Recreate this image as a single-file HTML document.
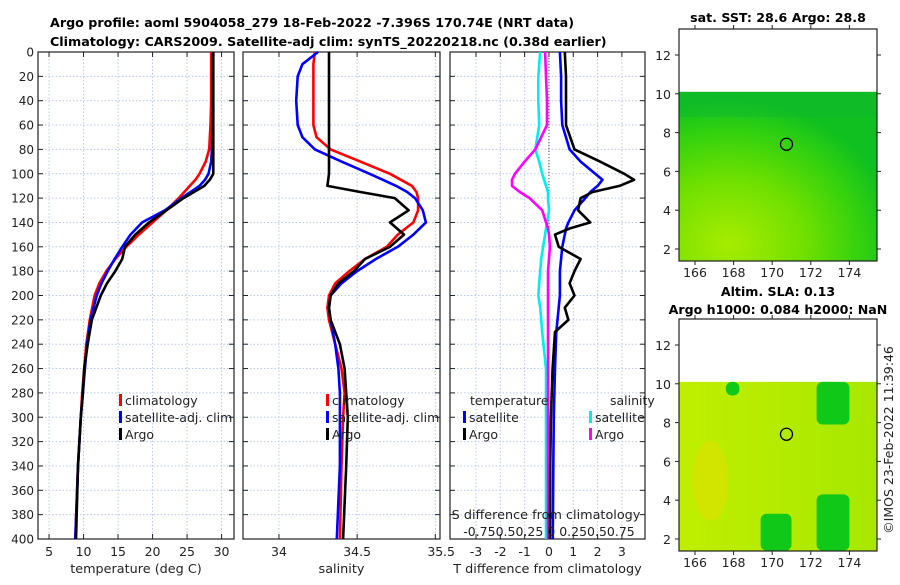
<!DOCTYPE html>
<html><head><meta charset="utf-8"><style>
body{margin:0;background:#fff;}
svg{font-family:"DejaVu Sans","Liberation Sans",sans-serif;}
</style></head><body>
<svg id="c" width="900" height="580" viewBox="0 0 900 580" xmlns="http://www.w3.org/2000/svg">
<text x="50" y="27" font-size="12.7" font-weight="bold">Argo profile: aoml 5904058_279 18-Feb-2022 -7.396S 170.74E (NRT data)</text>
<text x="50" y="46" font-size="12.7" font-weight="bold">Climatology: CARS2009. Satellite-adj clim: synTS_20220218.nc (0.38d earlier)</text>
<g id="plots"></g>
<text transform="translate(893,440) rotate(-90)" text-anchor="middle" font-size="12.5" fill="#222">©IMOS 23-Feb-2022 11:39:46</text>
</svg>
<script>
// ---- data ----
const depthT = [0,20,40,60,80,90,100,105,110,120,130,140,150,160,170,180,190,200,220,240,260,280,300,340,400];
const tempClim = [28.5,28.5,28.5,28.4,28.2,27.7,26.8,26.2,25.4,23.8,22.0,20.0,18.0,16.2,14.6,13.3,12.3,11.6,10.9,10.4,10.1,9.8,9.6,9.2,8.8];
const tempSat  = [28.7,28.7,28.7,28.7,28.6,28.5,28.1,27.6,26.8,24.2,21.8,18.5,16.8,15.6,14.5,13.5,12.6,11.9,11.0,10.5,10.2,9.9,9.6,9.2,8.8];
const tempArgo = [28.8,28.8,28.8,28.8,28.8,28.8,28.8,28.3,27.5,24.5,22.0,19.5,17.5,16.0,15.6,14.6,13.4,12.5,11.2,10.6,10.1,9.9,9.6,9.2,8.9];
const depthS = [0,10,20,40,60,70,80,90,100,110,115,120,130,140,150,160,170,180,190,200,210,220,240,260,280,300,340,400];
const salClim = [34.23,34.22,34.22,34.22,34.22,34.24,34.33,34.52,34.71,34.85,34.88,34.89,34.89,34.86,34.76,34.69,34.55,34.45,34.36,34.32,34.31,34.32,34.36,34.40,34.42,34.41,34.40,34.39];
const salSat  = [34.25,34.15,34.12,34.11,34.12,34.15,34.23,34.40,34.58,34.75,34.82,34.87,34.92,34.94,34.86,34.76,34.62,34.50,34.40,34.33,34.32,34.33,34.36,34.38,34.39,34.39,34.39,34.37];
const salArgo = [34.32,34.32,34.32,34.32,34.32,34.32,34.32,34.32,34.32,34.31,34.52,34.74,34.83,34.71,34.80,34.71,34.55,34.48,34.38,34.33,34.32,34.33,34.39,34.42,34.43,34.44,34.43,34.41];
const depthD = [0,20,40,60,80,90,100,105,110,115,120,130,140,145,150,160,170,180,190,200,210,220,230,260,300,340,400];
const dTsat  = [0.45,0.5,0.5,0.55,0.85,1.3,1.9,2.2,2.0,1.7,1.5,1.05,0.8,0.7,0.65,0.55,0.5,0.45,0.45,0.45,0.4,0.35,0.3,0.25,0.2,0.18,0.16];
const dTargo = [0.65,0.7,0.7,0.7,1.05,2.1,3.1,3.5,2.9,1.8,1.3,1.2,1.7,0.85,0.25,0.4,1.3,1.05,0.85,1.05,0.65,0.8,0.25,0.15,0.08,0.05,0.04];
const dSsat  = [-0.09,-0.11,-0.11,-0.1,-0.14,-0.1,-0.07,-0.05,-0.03,-0.01,-0.01,0,-0.02,-0.03,-0.04,-0.06,-0.08,-0.09,-0.1,-0.11,-0.09,-0.08,-0.07,-0.03,-0.03,-0.03,-0.03];
const dSargo = [-0.04,-0.03,-0.02,-0.02,-0.14,-0.25,-0.35,-0.38,-0.38,-0.3,-0.2,-0.07,-0.03,-0.01,0,0.01,0,-0.01,-0.01,-0.01,-0.01,-0.01,-0.01,-0.01,-0.01,-0.01,-0.01];
const depthTicks = [0,20,40,60,80,100,120,140,160,180,200,220,240,260,280,300,320,340,360,380,400];
const tempTicks = [5,10,15,20,25,30];
const salTicks = ["34","34.5","35"];
const dTTicks = [-3,-2,-1,0,1,2,3];
const lonTicks = [166,168,170,172,174];
const latTicks = [2,4,6,8,10,12];

const NS="http://www.w3.org/2000/svg";
const G=document.getElementById('plots');
function el(tag,attrs,parent){const e=document.createElementNS(NS,tag);for(const k in attrs)e.setAttribute(k,attrs[k]);(parent||G).appendChild(e);return e;}
function txt(x,y,s,size,anchor,parent){const t=el('text',{x:x,y:y,'font-size':size||12.5,'text-anchor':anchor||'middle',fill:'#222'},parent);t.textContent=s;return t;}

const Y0=52,Y1=539;
const yD=d=>Y0+(d/400)*(Y1-Y0);

function panel(name,x0,x1,xmin,xmax,xticks,xlabels,xtitle,leftLabels){
  const g=el('g',{});
  
  
  const sx=v=>x0+(v-xmin)/(xmax-xmin)*(x1-x0);
  xticks.forEach((v,i)=>{const X=sx(v);if(X<x0||X>x1)return;
    el('line',{x1:X,x2:X,y1:Y0,y2:Y1,stroke:'#b8c8f0','stroke-dasharray':'1.5,2','stroke-width':1},g);
    el('line',{x1:X,x2:X,y1:Y1,y2:Y1-5,stroke:'#222'},g);el('line',{x1:X,x2:X,y1:Y0,y2:Y0+5,stroke:'#222'},g);});
  xticks.forEach((v,i)=>{const X=sx(v);const t=txt(X,556,xlabels[i],12.5,'middle',g);});
  depthTicks.forEach(d=>{const Y=yD(d);
    el('line',{x1:x0,x2:x1,y1:Y,y2:Y,stroke:'#b8c8f0','stroke-dasharray':'1.5,2'},g);
    el('line',{x1:x0,x2:x0+5,y1:Y,y2:Y,stroke:'#222'},g);el('line',{x1:x1,x2:x1-5,y1:Y,y2:Y,stroke:'#222'},g);
    if(leftLabels){const t=txt(x0-4,Y+4.5,String(d),12,'end',g);}});
  el('rect',{x:x0,y:Y0,width:x1-x0,height:Y1-Y0,fill:'none',stroke:'#222','stroke-width':1.2},g);
  const t=txt((x0+x1)/2,573,xtitle,12.8,'middle',g);
  return {g,sx};
}
function line(p,xs,ds,color,name,w){
  const pts=xs.map((v,i)=>p.sx(v).toFixed(1)+','+yD(ds[i]).toFixed(1)).join(' ');
  const e=el('polyline',{points:pts,fill:'none',stroke:color,'stroke-width':w||2.6,'stroke-linejoin':'round'},p.g);
  
}
function legend(p,x,y,items){
  items.forEach((it,i)=>{const Y=y+i*17;
    el('rect',{x:x,y:Y-11,width:3,height:12,fill:it[1]},p.g);
    const t=txt(x+6,Y,it[0],12.5,'start',p.g);});
}

// Panel 1 temperature
const p1=panel('temperature-panel',38,234,3.4,31.8,tempTicks,tempTicks.map(String),'temperature (deg C)',true);
line(p1,tempClim,depthT,'#f00','temp-climatology-line');
line(p1,tempSat,depthT,'#00f','temp-satellite-line');
line(p1,tempArgo,depthT,'#000','temp-argo-line');
legend(p1,119,405,[['climatology','#f00'],['satellite-adj. clim','#00f'],['Argo','#000']]);

// Panel 2 salinity
const p2=panel('salinity-panel',243,440,33.77,35.03,salTicks.map(Number),salTicks,'salinity',false);
line(p2,salClim,depthS,'#f00','sal-climatology-line');
line(p2,salSat,depthS,'#00f','sal-satellite-line');
line(p2,salArgo,depthS,'#000','sal-argo-line');
legend(p2,326,405,[['climatology','#f00'],['satellite-adj. clim','#00f'],['Argo','#000']]);
txt(449,556,'.5',12.5,'middle',p2.g);

// Panel 3 differences
const p3=panel('difference-panel',450,645,-4.07,3.95,dTTicks,dTTicks.map(String),'T difference from climatology',false);
el('line',{x1:p3.sx(0),x2:p3.sx(0),y1:Y0,y2:Y1,stroke:'#444','stroke-dasharray':'1,2'},p3.g);
const sS=v=>v*4;
line(p3,dSsat.map(sS),depthD,'#0ee','sal-diff-satellite-line');
line(p3,dSargo.map(sS),depthD,'#f0f','sal-diff-argo-line');
line(p3,dTsat,depthD,'#00f','temp-diff-satellite-line');
line(p3,dTargo,depthD,'#000','temp-diff-argo-line');
txt(470,405,'temperature',12.5,'start',p3.g);
txt(610,405,'salinity',12.5,'start',p3.g);
legend(p3,463,422,[['satellite','#00f'],['Argo','#000']]);
legend(p3,589,422,[['satellite','#0ee'],['Argo','#f0f']]);
txt(546,519,'S difference from climatology',12.8,'middle',p3.g);
txt(549,536,'-0.750.50.25 0 0.250.50.75',12.5,'middle',p3.g);

// Maps
function map(name,x0,y0,x1,y1,yTop,title,titleLines,style){
  const g=el('g',{});
  
  
  const sx=v=>695+(v-166)*19.3;
  const sy=v=>yTop+(12-v)*19.4;
  const gid=name+'-grad';
  const defs=el('defs',{},g);
  if(style===1){
    const rg=el('radialGradient',{id:gid,cx:0.25,cy:0.9,r:0.85},defs);
    el('stop',{offset:'0','stop-color':'#a8ec00'},rg);
    el('stop',{offset:'0.45','stop-color':'#70e000'},rg);
    el('stop',{offset:'0.8','stop-color':'#30d010'},rg);
    el('stop',{offset:'1','stop-color':'#10c020'},rg);
  }else{
    const lg=el('linearGradient',{id:gid,x1:0,y1:0,x2:1,y2:0},defs);
    el('stop',{offset:'0','stop-color':'#c0ee00'},lg);
    el('stop',{offset:'1','stop-color':'#a8e800'},lg);
  }
  const top=sy(10.1);
  el('rect',{x:x0,y:top,width:x1-x0,height:y1-top,fill:'url(#'+gid+')'},g);
  if(style===1){
    el('rect',{x:x0,y:top,width:x1-x0,height:sy(8.8)-top,fill:'#10b830',opacity:0.45},g);
  }else{
    [[172.3,10.1,174,7.9],[172.3,4.3,174,1.4],[169.4,3.3,171,1.4],[167.6,10.1,168.3,9.4]].forEach(b=>{
      el('rect',{x:sx(b[0]),y:sy(b[1]),width:sx(b[2])-sx(b[0]),height:sy(b[3])-sy(b[1]),fill:'#10c818',rx:6},g);});
    el('ellipse',{cx:sx(166.8),cy:sy(5),rx:18,ry:40,fill:'#e0e000',opacity:0.6},g);
  }
  el('circle',{cx:sx(170.74),cy:sy(7.4),r:6,fill:'none',stroke:'#000','stroke-width':1.3},g);
  el('rect',{x:x0,y:y0,width:x1-x0,height:y1-y0,fill:'none',stroke:'#222','stroke-width':1.2},g);
  lonTicks.forEach(v=>{const X=sx(v);el('line',{x1:X,x2:X,y1:y1,y2:y1+4,stroke:'#222'},g);el('line',{x1:X,x2:X,y1:y0,y2:y0-4,stroke:'#222'},g);
    const t=txt(X,y1+16,String(v),12.5,'middle',g);});
  latTicks.forEach(v=>{const Y=sy(v);el('line',{x1:x0,x2:x0-4,y1:Y,y2:Y,stroke:'#222'},g);el('line',{x1:x1,x2:x1+4,y1:Y,y2:Y,stroke:'#222'},g);
    const t=txt(x0-8,Y+5,String(v),12.5,'end',g);});
  titleLines.forEach((s,i)=>{const t=txt(778,title+i*18,s,12.6,'middle',g);t.setAttribute('font-weight','bold');t.setAttribute('fill','#000');});
}
map('sst-map',679,29,877,261,55,22,['sat. SST: 28.6 Argo: 28.8'],1);
map('sla-map',679,319,877,551,345,296,['Altim. SLA: 0.13','Argo h1000: 0.084 h2000: NaN'],2);
</script>
</body></html>
